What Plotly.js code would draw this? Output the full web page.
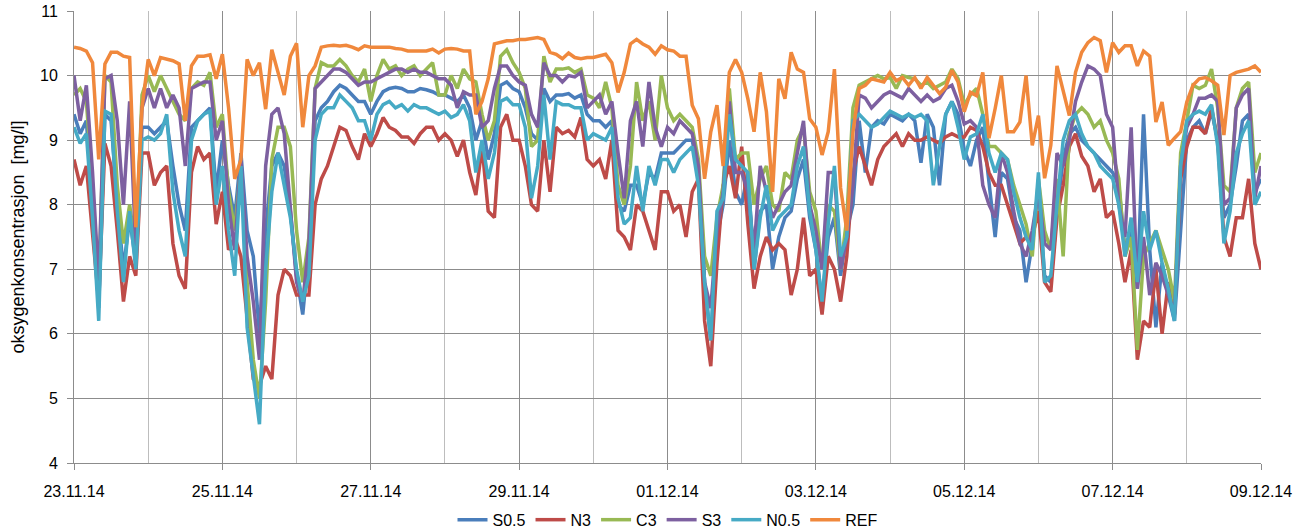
<!DOCTYPE html>
<html>
<head>
<meta charset="utf-8">
<script src="https://cdn.plot.ly/plotly-3.0.1.min.js"></script>
<style>html,body{margin:0;padding:0;background:#fff;}#chart{width:1307px;height:529px;}</style>
</head>
<body>
<div id="chart"></div>
<script>
// Time axis: 2-hour samples from 23.11.14 00:00 to 09.12.14 00:00
const startTime = Date.UTC(2014, 10, 23, 0, 0, 0);
const stepHours = 2;
const seriesNames = ["S0.5", "N3", "C3", "S3", "N0.5", "REF"];
const seriesColors = ["#4A7EBB", "#BE4B48", "#98B954", "#7D60A0", "#46AAC5", "#F0883C"];

const S05 = [
9.4,9.1,9.3,8.0,6.4,9.4,9.3,8.0,7.0,7.8,7.1,9.2,
9.2,9.1,9.2,9.3,8.6,8.0,7.6,9.2,9.3,9.4,9.5,8.2,
9.0,8.3,7.8,8.8,7.6,7.2,6.0,7.6,8.6,8.8,8.6,7.9,
6.9,6.3,7.3,9.3,9.5,9.6,9.75,9.85,9.8,9.7,9.6,9.6,
9.4,9.6,9.75,9.8,9.82,9.8,9.75,9.75,9.8,9.78,9.75,9.7,
9.7,9.65,9.6,9.7,9.5,9.0,9.3,8.7,9.1,9.85,9.9,9.8,
9.75,9.5,9.1,9.0,9.8,9.6,9.7,9.7,9.72,9.65,9.7,9.4,
9.3,9.3,9.2,9.3,8.0,7.9,8.3,8.3,8.0,8.5,8.4,8.8,
8.8,8.8,8.9,9.0,9.0,8.5,6.8,5.9,7.5,8.0,9.0,8.2,
8.0,8.5,7.0,7.9,8.0,7.0,7.5,7.8,7.9,8.4,8.7,7.8,
7.3,6.5,7.5,7.8,6.9,7.6,8.0,9.3,8.5,9.2,9.3,9.25,
9.4,9.35,9.3,9.4,9.3,8.65,9.4,9.2,8.3,9.4,9.6,9.4,
8.85,8.6,9.0,9.2,8.3,7.5,8.5,8.4,7.8,7.6,6.8,7.4,
8.3,6.9,6.8,7.9,8.7,9.1,9.2,9.0,8.9,8.8,8.7,8.6,
8.5,8.3,7.3,7.6,6.7,9.4,7.3,6.1,7.1,6.6,6.2,7.6,
9.0,9.2,9.3,9.1,9.45,9.0,7.8,8.0,8.6,9.3,9.4,8.2,
8.4];

const N3 = [
8.7,8.3,8.6,7.6,6.5,8.95,8.6,7.6,6.5,7.2,6.9,8.8,
8.8,8.3,8.5,8.6,7.4,6.9,6.7,8.5,8.9,8.7,8.8,7.7,
8.2,7.3,7.5,7.2,6.2,5.3,5.2,5.5,5.3,6.6,7.0,6.9,
6.6,6.6,6.6,8.0,8.4,8.6,8.9,9.2,9.15,8.9,8.7,9.1,
8.9,9.1,9.35,9.2,9.15,9.05,9.05,8.95,9.1,9.2,9.2,9.0,
9.1,9.0,8.75,9.0,8.5,8.15,8.9,7.9,7.8,9.2,9.4,9.0,
9.0,8.6,8.0,7.9,9.0,8.2,9.2,9.1,9.15,9.05,9.35,8.7,
8.6,8.7,8.4,9.0,7.6,7.5,7.3,8.0,7.9,7.6,7.3,8.2,
8.2,7.9,8.0,7.5,8.2,8.4,6.2,5.5,7.1,8.3,8.6,8.1,
8.9,7.7,6.7,7.2,7.5,7.3,7.4,7.3,6.6,7.0,7.8,6.9,
7.0,6.3,7.2,7.0,6.5,7.2,8.5,8.9,8.6,8.3,8.7,8.9,
9.0,9.1,8.9,9.1,9.0,9.0,9.05,9.0,8.95,9.05,9.1,9.05,
9.05,9.2,9.15,8.9,8.5,8.3,8.3,8.0,7.7,7.4,7.5,7.5,
7.9,6.8,6.65,7.8,8.3,8.9,9.1,8.75,8.6,8.2,8.4,7.8,
7.9,7.4,6.8,7.3,5.6,6.2,6.1,7.0,6.0,6.8,6.3,8.4,
8.9,9.2,9.2,9.1,9.5,9.0,7.5,7.2,7.8,7.8,8.4,7.4,
7.0];

const C3 = [
9.7,9.8,9.6,8.3,6.6,10.0,9.9,8.3,7.4,8.0,7.3,9.7,
10.0,9.75,10.0,9.8,9.6,9.4,9.3,9.8,9.9,9.85,10.05,9.2,
9.4,8.2,7.6,8.6,6.8,5.6,5.0,6.5,8.7,9.2,9.2,8.9,
7.6,6.8,7.5,9.8,10.2,10.15,10.15,10.25,10.15,10.0,9.9,10.1,
9.6,10.0,10.25,10.1,10.15,10.0,10.1,10.15,10.0,10.1,10.2,9.7,
9.7,10.0,9.8,10.1,9.95,9.9,9.4,9.0,9.3,10.3,10.4,10.2,
10.05,9.8,8.9,9.0,10.3,9.9,10.1,10.1,10.12,10.05,10.1,9.7,
9.65,9.5,9.9,9.5,8.3,8.0,8.6,9.9,9.3,9.6,9.0,10.0,
9.5,9.3,9.4,9.3,9.2,8.7,7.2,6.9,7.8,8.3,9.8,8.7,
8.8,8.8,8.0,8.4,8.6,8.0,7.9,8.5,8.4,9.0,9.2,8.2,
7.9,7.0,8.0,7.9,7.0,7.8,9.5,9.85,9.9,9.95,10.0,9.95,
9.97,9.8,10.0,9.97,9.95,9.85,9.9,9.8,9.85,9.9,10.1,9.95,
9.55,9.7,9.8,9.4,8.9,8.9,8.8,8.7,8.3,8.0,7.7,7.2,
8.4,7.6,7.3,8.4,7.2,9.1,9.4,9.5,9.4,9.2,9.3,9.0,
8.8,8.4,7.2,7.5,5.75,7.2,7.4,7.6,7.3,7.0,6.5,8.8,
9.3,9.85,9.8,9.85,10.1,9.5,8.3,8.2,9.5,9.8,9.9,8.5,
8.8];

const S3 = [
10.0,9.3,9.85,8.5,6.8,9.95,10.0,9.3,8.0,9.6,7.3,9.5,
9.8,9.5,9.8,9.5,9.7,9.5,8.6,9.8,9.85,9.9,9.9,9.0,
9.3,8.0,7.3,8.7,7.2,6.5,5.6,8.6,9.4,9.5,9.1,7.9,
6.8,6.5,7.4,9.8,9.9,10.0,10.1,10.1,10.05,9.95,9.85,9.9,
9.9,9.95,10.0,10.05,10.1,10.1,10.05,10.1,10.05,10.05,10.0,9.95,
9.95,9.85,9.5,9.75,9.7,9.7,9.2,9.3,9.8,10.15,10.15,10.0,
9.9,9.85,9.4,9.2,10.2,10.0,10.0,9.9,10.0,9.98,10.05,9.5,
9.6,9.7,9.4,9.6,8.8,8.1,9.3,9.6,8.9,9.9,9.2,8.9,
9.2,9.1,9.3,9.2,9.1,8.6,6.8,6.4,7.6,8.2,9.6,8.5,
8.5,8.2,7.3,8.6,8.2,7.8,8.0,8.2,8.3,8.8,9.3,8.0,
7.6,7.0,8.5,8.5,7.0,7.5,8.3,9.7,9.65,9.5,9.6,9.7,
9.75,9.7,9.65,9.8,9.7,9.6,9.7,9.6,9.65,9.8,9.85,9.6,
9.25,9.3,9.2,8.3,8.0,7.8,8.8,8.5,7.9,7.4,7.2,7.6,
8.2,7.4,7.3,8.8,8.6,9.0,9.6,9.9,10.15,10.1,10.0,9.4,
9.2,8.0,7.5,9.2,6.7,7.5,6.6,7.1,6.9,6.6,6.3,8.6,
9.2,9.4,9.65,9.65,9.7,9.6,8.0,8.1,9.5,9.7,9.8,8.1,
8.6];

const N05 = [
9.2,8.95,9.1,7.8,6.2,9.45,9.4,7.9,6.8,7.9,7.0,9.0,
9.05,9.0,9.1,9.4,8.2,7.6,7.2,9.0,9.3,9.4,9.45,8.0,
8.6,7.6,6.9,8.6,6.1,5.3,4.6,7.0,8.2,8.8,8.3,7.8,
7.0,6.5,6.9,9.0,9.4,9.5,9.5,9.7,9.6,9.5,9.3,9.3,
9.0,9.4,9.55,9.6,9.5,9.55,9.45,9.55,9.5,9.5,9.45,9.4,
9.45,9.35,9.4,9.55,9.3,8.5,9.0,8.4,8.8,9.6,9.65,9.55,
9.55,9.2,8.1,8.6,9.7,8.7,9.6,9.55,9.55,9.5,9.5,9.0,
9.1,9.05,9.0,9.2,8.1,7.7,7.8,8.6,7.9,8.6,8.3,8.7,
8.7,8.5,8.7,8.8,8.9,8.3,6.8,5.9,7.9,8.1,9.4,8.7,
8.6,8.5,7.0,7.8,8.3,7.6,7.8,7.9,8.0,8.6,8.9,7.9,
7.3,6.5,7.7,8.6,7.2,7.5,9.3,9.4,9.3,9.2,9.25,9.35,
9.45,9.4,9.35,9.4,9.35,9.4,9.3,8.3,8.9,9.4,9.6,9.2,
8.7,9.05,9.1,9.4,8.8,8.5,8.8,8.7,8.2,7.8,7.5,7.3,
8.5,6.8,6.9,8.0,9.0,9.3,9.4,9.1,8.9,8.8,8.6,8.5,
8.4,8.0,7.2,7.8,6.8,7.9,7.3,7.6,7.1,6.7,6.2,8.6,
9.3,9.4,9.45,9.4,9.55,8.9,7.4,7.9,8.8,9.1,9.3,8.0,
8.2];

const REF = [
10.44,10.42,10.38,10.2,8.7,10.18,10.36,10.36,10.3,10.28,7.65,9.5,
10.25,10.0,10.28,10.25,10.23,10.18,9.3,10.15,10.3,10.3,10.32,9.95,
10.33,9.5,8.4,8.7,10.25,10.0,10.2,9.48,10.4,10.05,9.7,10.3,
10.5,9.2,10.0,10.15,10.44,10.46,10.47,10.46,10.47,10.44,10.4,10.46,
10.44,10.44,10.44,10.44,10.42,10.41,10.38,10.38,10.38,10.38,10.41,10.35,
10.41,10.42,10.41,10.38,10.38,9.4,9.6,9.95,10.49,10.52,10.54,10.54,
10.56,10.56,10.57,10.59,10.56,10.36,10.33,10.26,10.35,10.28,10.26,10.28,
10.28,10.3,10.33,10.2,9.74,10.05,10.49,10.56,10.49,10.44,10.33,10.46,
10.4,10.38,10.3,10.3,9.54,9.33,8.4,9.13,9.54,8.6,10.05,10.25,
10.05,9.64,9.13,10.05,9.44,8.2,9.95,9.64,10.36,10.1,10.05,9.33,
9.2,8.77,9.13,10.1,8.26,7.6,9.13,9.8,9.85,9.95,9.92,9.9,
10.05,9.92,9.97,9.85,9.97,9.8,9.97,9.85,9.72,9.82,10.08,9.9,
9.44,9.74,9.69,10.05,9.03,9.49,10.0,9.13,9.13,9.28,10.0,8.92,
9.38,8.41,8.92,10.15,9.74,9.38,10.05,10.36,10.51,10.59,10.54,10.05,
10.51,10.36,10.46,10.46,10.15,10.38,10.3,9.28,9.59,8.92,9.03,9.13,
9.59,9.85,9.95,9.97,9.92,9.85,9.08,10.0,10.05,10.08,10.1,10.15,
10.05];

const seriesValues = [S05, N3, C3, S3, N05, REF];

const times = S05.map((_, i) => new Date(startTime + i * stepHours * 3600000).toISOString());

const traces = seriesValues.map((vals, j) => ({
  type: 'scatter',
  mode: 'lines',
  name: seriesNames[j],
  x: times,
  y: vals,
  line: {color: seriesColors[j], width: 3.5}
}));

const font = "'Liberation Sans', Arial, 'Open Sans', sans-serif";

const layout = {
  width: 1307, height: 529,
  margin: {l: 74, r: 46, t: 11, b: 66, autoexpand: false},
  paper_bgcolor: '#ffffff', plot_bgcolor: '#ffffff',
  font: {family: font, size: 16, color: '#000000'},
  showlegend: true,
  legend: {orientation: 'h', x: 0.5, xanchor: 'center', y: -0.088, yanchor: 'top',
           font: {family: font, size: 16, color: '#000'}, itemwidth: 30, traceorder: 'normal'},
  xaxis: {
    type: 'date',
    range: ['2014-11-23 00:00', '2014-12-09 00:00'],
    tick0: '2014-11-23', dtick: 172800000,
    tickformat: '%d.%m.%y',
    showgrid: true, gridcolor: '#8c8c8c', gridwidth: 1,
    minor: {dtick: 86400000, showgrid: true, gridcolor: '#bdbdbd', gridwidth: 1},
    showline: true, linecolor: '#8c8c8c', linewidth: 1,
    ticks: 'outside', ticklen: 6, tickcolor: '#8c8c8c',
    ticklabelstandoff: 8,
    tickfont: {family: font, size: 16, color: '#000'},
    zeroline: false, fixedrange: true, automargin: false
  },
  yaxis: {
    range: [4, 11], dtick: 1,
    showgrid: true, gridcolor: '#8c8c8c', gridwidth: 1,
    showline: true, linecolor: '#8c8c8c', linewidth: 1,
    ticks: 'outside', ticklen: 6, tickcolor: '#8c8c8c',
    ticklabelstandoff: 6,
    tickfont: {family: font, size: 16, color: '#000'},
    title: {text: 'oksygenkonsentrasjon  [mg/l]', font: {family: font, size: 18, color: '#000'}, standoff: 10},
    zeroline: false, fixedrange: true, automargin: false
  }
};

Plotly.newPlot('chart', traces, layout, {staticPlot: true, displayModeBar: false});
</script>
</body>
</html>
